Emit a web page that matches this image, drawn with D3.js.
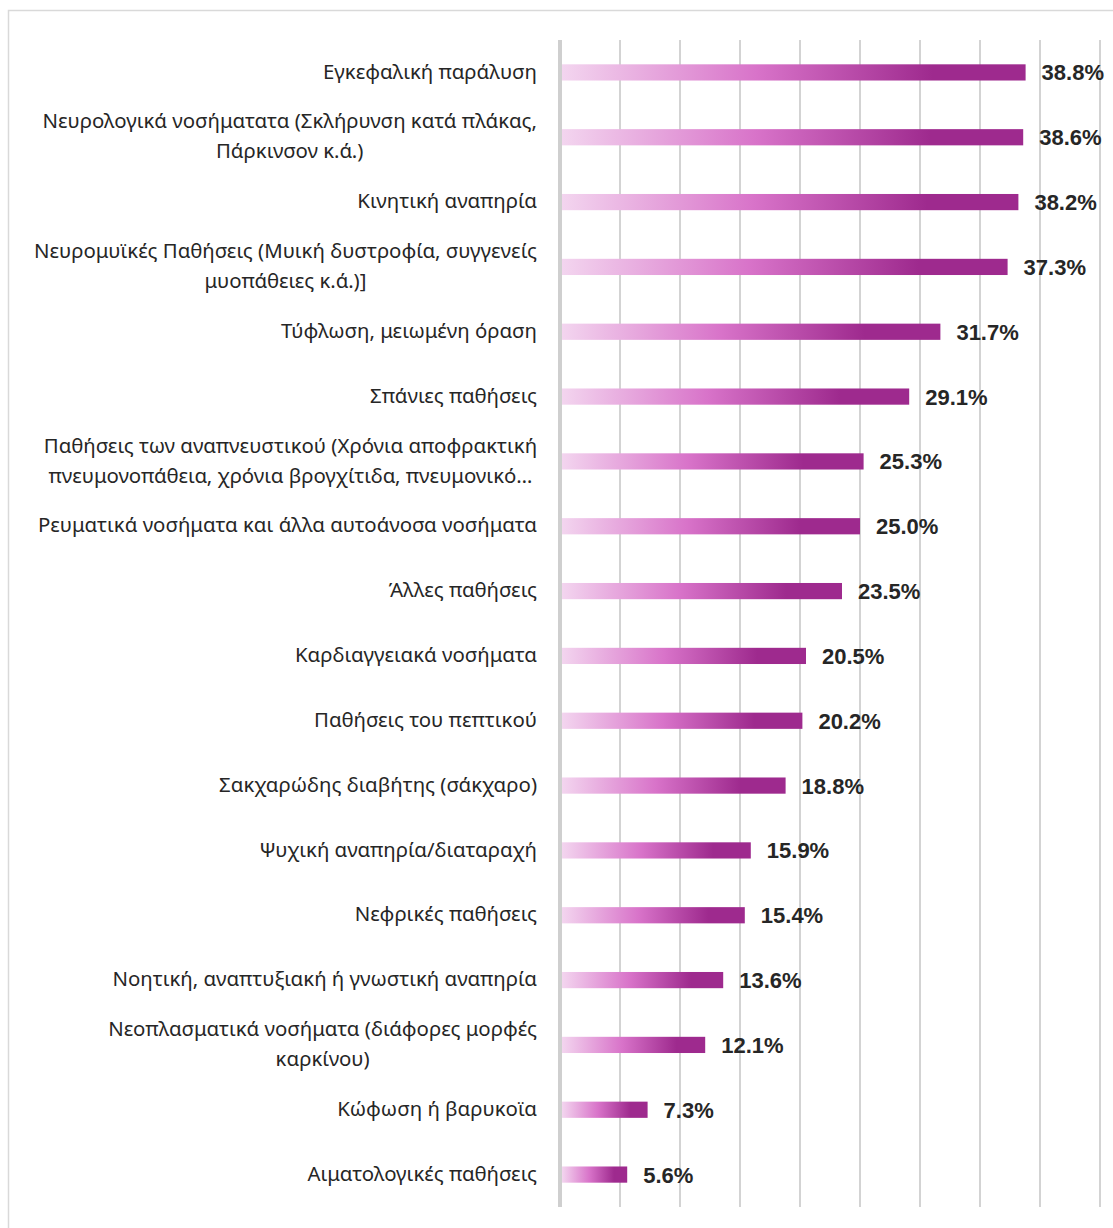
<!DOCTYPE html>
<html><head><meta charset="utf-8">
<script src="https://cdn.jsdelivr.net/npm/d3@7"></script>
<style>html,body{margin:0;padding:0;background:#fff;}svg{display:block;}</style>
</head><body>
<svg id="chart" width="1113" height="1228"></svg>
<script>
const categories = [
  ["Εγκεφαλική παράλυση"],
  ["Νευρολογικά νοσήματατα (Σκλήρυνση κατά πλάκας,", "Πάρκινσον κ.ά.)"],
  ["Κινητική αναπηρία"],
  ["Νευρομυϊκές Παθήσεις (Μυική δυστροφία, συγγενείς", "μυοπάθειες κ.ά.)]"],
  ["Τύφλωση, μειωμένη όραση"],
  ["Σπάνιες παθήσεις"],
  ["Παθήσεις των αναπνευστικού (Χρόνια αποφρακτική", "πνευμονοπάθεια, χρόνια βρογχίτιδα, πνευμονικό…"],
  ["Ρευματικά νοσήματα και άλλα αυτοάνοσα νοσήματα"],
  ["Άλλες παθήσεις"],
  ["Καρδιαγγειακά νοσήματα"],
  ["Παθήσεις του πεπτικού"],
  ["Σακχαρώδης διαβήτης (σάκχαρο)"],
  ["Ψυχική αναπηρία/διαταραχή"],
  ["Νεφρικές παθήσεις"],
  ["Νοητική, αναπτυξιακή ή γνωστική αναπηρία"],
  ["Νεοπλασματικά νοσήματα (διάφορες μορφές", "καρκίνου)"],
  ["Κώφωση ή βαρυκοϊα"],
  ["Αιματολογικές παθήσεις"]
];
const values = [38.8, 38.6, 38.2, 37.3, 31.7, 29.1, 25.3, 25.0, 23.5, 20.5, 20.2, 18.8, 15.9, 15.4, 13.6, 12.1, 7.3, 5.6];
const gridTicks = [5, 10, 15, 20, 25, 30, 35, 40, 45];

const svg = d3.select("#chart");
// frame
svg.append("rect").attr("x", 8.5).attr("y", 10.5).attr("width", 1200).attr("height", 1300)
  .attr("fill", "none").attr("stroke", "#d9d9d9").attr("stroke-width", 1.5);

const x = d3.scaleLinear().domain([0, 45]).range([560, 1100]);
const y = d3.scaleBand().domain(d3.range(values.length)).range([40, 1207]).paddingInner(0.75).paddingOuter(0.375);

const defs = svg.append("defs");
const grad = defs.append("linearGradient").attr("id", "barGrad")
  .attr("x1", "0").attr("x2", "1").attr("y1", "0").attr("y2", "0");
[[0, "#f3d5ef"], [0.42, "#d873c9"], [0.8, "#9e2a8e"], [1, "#9e2a8e"]].forEach(([o, c]) =>
  grad.append("stop").attr("offset", o).attr("stop-color", c));

// gridlines
svg.append("g").selectAll("line").data(gridTicks).join("line")
  .attr("x1", d => x(d)).attr("x2", d => x(d))
  .attr("y1", 40).attr("y2", 1207)
  .attr("stroke", "#d3d3d3").attr("stroke-width", 2);

// axis line
svg.append("line").attr("x1", x(0)).attr("x2", x(0)).attr("y1", 40).attr("y2", 1207)
  .attr("stroke", "#cfcfcf").attr("stroke-width", 4);

// bars
svg.append("g").selectAll("rect").data(values).join("rect")
  .attr("x", x(0) + 2)
  .attr("y", (d, i) => y(i))
  .attr("width", d => x(d) - x(0) - 2)
  .attr("height", y.bandwidth())
  .attr("fill", "url(#barGrad)");

// value labels
svg.append("g").selectAll("text").data(values).join("text")
  .attr("x", d => x(d) + 16)
  .attr("y", (d, i) => y(i) + y.bandwidth() / 2)
  .attr("dy", "0.36em")
  .attr("font-family", "'Liberation Sans', Arial, sans-serif")
  .attr("font-weight", "bold")
  .attr("font-size", 22)
  .attr("fill", "#262626")
  .text(d => d.toFixed(1) + "%");

// category labels: block right-aligned at 537, lines centred within block
const rightEdge = 537;
const lab = svg.append("g").selectAll("text").data(categories).join("text")
  .attr("font-family", "'Noto Sans', sans-serif")
  .attr("font-size", 20.4)
  .attr("fill", "#262626")
  .attr("y", (d, i) => y(i) + y.bandwidth() / 2 - 1 - (d.length - 1) * 15);
lab.each(function(d) {
  const t = d3.select(this);
  const spans = d.map((line, j) =>
    t.append("tspan").attr("dy", j === 0 ? "0.35em" : 30).text(line));
  const widths = spans.map(s => s.node().getComputedTextLength());
  const maxW = d3.max(widths);
  const center = rightEdge - maxW / 2;
  spans.forEach(s => s.attr("x", center).attr("text-anchor", "middle"));
});
</script>
</body></html>
